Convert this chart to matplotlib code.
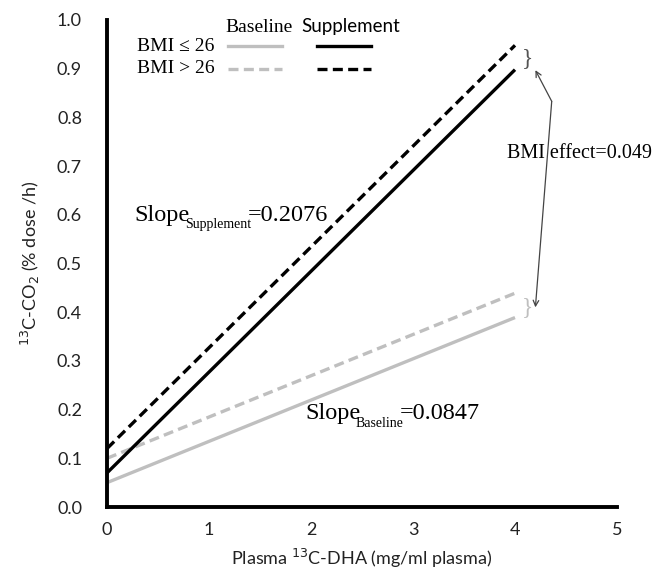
import matplotlib
matplotlib.use("Agg")
import matplotlib.pyplot as plt

# Data
x_ends = [0, 4]
supp_le26 = [0.07, 0.898]
supp_gt26 = [0.12, 0.948]
base_le26 = [0.05, 0.389]
base_gt26 = [0.10, 0.439]
xticks = [0, 1, 2, 3, 4, 5]
yticks = [0.0, 0.1, 0.2, 0.3, 0.4, 0.5, 0.6, 0.7, 0.8, 0.9, 1.0]
slope_supp = "0.2076"
slope_base = "0.0847"
bmi_effect = "0.049"

SANS = ["Lato", "DejaVu Sans"]
SERIF = ["Liberation Serif", "DejaVu Serif"]
GRAY = "#bfbfbf"
DASH = (0, (3, 1.6))

fig = plt.figure(figsize=(6.54, 5.72), dpi=100)
ax = fig.add_axes([107/654, 1-507/572, (617-107)/654, (507-20)/572])

ax.plot(x_ends, base_le26, color=GRAY, lw=2.4, solid_capstyle="butt")
ax.plot(x_ends, base_gt26, color=GRAY, lw=2.4, ls=DASH)
ax.plot(x_ends, supp_le26, color="black", lw=2.4, solid_capstyle="butt")
ax.plot(x_ends, supp_gt26, color="black", lw=2.4, ls=DASH)

ax.set_xlim(0, 5)
ax.set_ylim(0, 1.0)
ax.set_xticks(xticks)
ax.set_xticklabels([str(v) for v in xticks], family=SANS, fontsize=13, color="#222222")
ax.set_yticks(yticks)
ax.set_yticklabels([f"{v:.1f}" for v in yticks], family=SANS, fontsize=13, color="#222222")
ax.tick_params(length=0)
ax.tick_params(axis="x", pad=11)
ax.tick_params(axis="y", pad=18)
for s in ["top", "right"]:
    ax.spines[s].set_visible(False)
for s in ["left", "bottom"]:
    ax.spines[s].set_linewidth(2.8)
    ax.spines[s].set_color("black")

ax.set_xlabel("Plasma $^{13}$C-DHA (mg/ml plasma)", family=SANS, fontsize=13, color="#222222", labelpad=6)
ax.set_ylabel("$^{13}$C-CO$_2$ (% dose /h)", family=SANS, fontsize=13, color="#222222", labelpad=11)


def slope_text(x, y, sub, value):
    t1 = ax.text(x, y, "Slope", family=SERIF, fontsize=17.5, va="baseline", ha="left")
    t2 = ax.annotate(sub, xy=(1, 0), xycoords=t1, xytext=(-3.5, -4),
                     textcoords="offset points", family=SERIF, fontsize=10,
                     va="bottom", ha="left")
    ax.annotate("=" + value, xy=(1, 0), xycoords=t2, xytext=(-2.5, 4),
                textcoords="offset points", family=SERIF, fontsize=17.5,
                va="bottom", ha="left")


slope_text(0.27, 0.588, "Supplement", slope_supp)
slope_text(1.94, 0.18, "Baseline", slope_base)
ax.text(3.92, 0.725, "BMI effect=" + bmi_effect, family=SERIF, fontsize=14.5,
        va="center", ha="left")

# brackets
ax.text(4.12, 0.92, "}", family=SERIF, fontsize=17, va="center", ha="center", color="#555555")
ax.text(4.12, 0.41, "}", family=SERIF, fontsize=17, va="center", ha="center", color=GRAY)

# double arrow from a bend point
arrow_kw = dict(arrowstyle="->", color="#444444", lw=0.9, shrinkA=0, shrinkB=0)
ax.annotate("", xy=(4.2, 0.897), xytext=(4.36, 0.833), arrowprops=arrow_kw)
ax.annotate("", xy=(4.2, 0.41), xytext=(4.36, 0.833), arrowprops=arrow_kw)

# custom legend
ax.text(1.49, 0.984, "Baseline", family=SERIF, fontsize=14, va="center", ha="center")
ax.text(2.39, 0.986, "Supplement", family=SANS, fontsize=13.5, va="center", ha="center")
ax.text(0.67, 0.945, "BMI ≤ 26", family=SERIF, fontsize=14, va="center", ha="center")
ax.text(0.67, 0.90, "BMI > 26", family=SERIF, fontsize=14, va="center", ha="center")
ax.plot([1.19, 1.72], [0.947, 0.947], color=GRAY, lw=2.4, clip_on=False)
ax.plot([1.19, 1.72], [0.90, 0.90], color=GRAY, lw=2.4, ls=DASH, clip_on=False)
ax.plot([2.06, 2.59], [0.947, 0.947], color="black", lw=2.4, clip_on=False)
ax.plot([2.06, 2.59], [0.90, 0.90], color="black", lw=2.4, ls=DASH, clip_on=False)

fig.savefig("out.png", dpi=100)
